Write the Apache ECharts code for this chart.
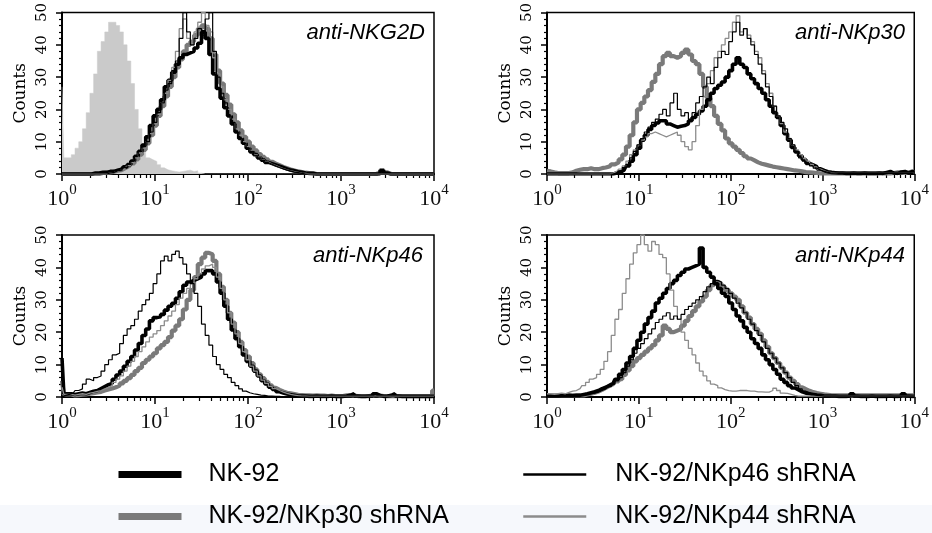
<!DOCTYPE html>
<html>
<head>
<meta charset="utf-8">
<script src="https://cdn.jsdelivr.net/npm/echarts@6/dist/echarts.min.js"></script>
<style>
  html, body { margin: 0; padding: 0; background: #fff; }
  #chart { width: 932px; height: 533px; }
</style>
</head>
<body>
<div id="chart"></div>
<script>
// Histogram channels, in decades of fluorescence (log10 of intensity)
const channelLog = [0,0.04,0.08,0.12,0.16,0.2,0.24,0.28,0.32,0.36,0.4,0.44,0.48,0.52,0.56,0.6,0.64,0.68,0.72,0.76,0.8,0.84,0.88,0.92,0.96,1,1.04,1.08,1.12,1.16,1.2,1.24,1.28,1.32,1.36,1.4,1.44,1.48,1.52,1.56,1.6,1.64,1.68,1.72,1.76,1.8,1.84,1.88,1.92,1.96,2,2.04,2.08,2.12,2.16,2.2,2.24,2.28,2.32,2.36,2.4,2.44,2.48,2.52,2.56,2.6,2.64,2.68,2.72,2.76,2.8,2.84,2.88,2.92,2.96,3,3.04,3.08,3.12,3.16,3.2,3.24,3.28,3.32,3.36,3.4,3.44,3.48,3.52,3.56,3.6,3.64,3.68,3.72,3.76,3.8,3.84,3.88,3.92,3.96,4];

const panelTitles = ['anti-NKG2D', 'anti-NKp30', 'anti-NKp46', 'anti-NKp44'];
const seriesNames = ['NK-92', 'NK-92/NKp30 shRNA', 'NK-92/NKp46 shRNA', 'NK-92/NKp44 shRNA'];
const isotypeName = 'Isotype control';
const yTicks = [0, 10, 20, 30, 40, 50];
const xTickExponents = [0, 1, 2, 3, 4];

// ---- anti-NKG2D ----
const nkg2dIsotype = [27,5,5,6,8,10,14,19,25,31, 38,41,44,47,47,46,44,40,35,28, 20,14,8,5,4.4,3.9,2.9,1.9,1.3,1, 0.8,0.6,0.8,1,1.2,0.8,1,0.3,0,0, 0,0,0,0,0,0,0,0,0,0, 0,0,0,0,0,0,0,0,0,0, 0,0,0,0,0,0,0,0,0,0, 0,0,0,0,0,0,0,0,0,0, 0,0,0,0,0,0,0,0,0,0, 0,0,0,0,0,0,0,0,0,0, 0];
const nkg2dNK92 = [0,0,0,0,0,0,0,0,0,0.3, 0.3,0.5,0.5,0.8,0.8,1.2,1.5,2.2,2.9,4, 5.5,7,9,11.5,15,18,20,23,27,29, 31.5,34,36,37,37.5,38,39,40.5,44,42, 37,31,26.5,23.5,20.5,18,15.5,13,11,9.5, 8,6.8,6,5,4.3,3.6,3.2,2.8,2.4,2, 1.6,1.2,1,0.7,0.5,0.3,0.2,0.2,0,0, 0,0,0,0,0,0,0,0,0,0, 0,0,0,0,0,0,1,0.3,0,0, 0,0,0,0,0,0,0,0,0,0, 0];
const nkg2dP30 = [0,0,0,0,0,0,0,0,0,0, 0,0.3,0.4,0.5,0.7,1,1.2,1.8,2.4,3.3, 4.5,6,7.5,9.5,12,15,18,21,24,27, 30,33,35.5,38,40,41,43,45,46,45, 42,37,32,28,24.5,21.5,18.5,16,13.5,11.5, 10,8.5,7.3,6.2,5.3,4.5,3.8,3.2,2.7,2.2, 1.8,1.4,1.1,0.8,0.6,0.4,0.3,0.2,0,0, 0,0,0,0,0,0,0,0,0,0, 0,0,0,0,0,0.5,1.2,0.5,0,0, 0,0,0,0,0,0,0,0,0,0, 0];
const nkg2dP46 = [0,0,0,0,0,0,0,0,0,0, 0,0,0,0.3,0.5,1,1.2,2,3,4, 5.5,7,8.5,10,13,16,19,22,26,28, 32,35,42,50,44,40,42,45,43,48, 50,38,30,25,22,18,16,13,11,9.5, 8,7,5.8,5,4.2,3.5,3,2.5,2,1.6, 1.2,0.9,0.6,0.4,0.2,0,0,0,0,0, 0,0,0,0,0,0,0,0,0,0, 0,0,0,0,0,0,0,0,0,0, 0,0,0,0,0,0,0,0,0,0, 0];
const nkg2dP44 = [0,0,0,0,0,0,0,0,0,0, 0,0,0,0.3,0.5,0.8,1.2,1.8,2.6,3.6, 5,6.5,8,10,12.5,15.5,18.5,22,25,29, 33,38,45,48,42,40,44,47,50,46, 44,36,31,27,23,20,17,14,12,10, 8.5,7.2,6,5.2,4.4,3.7,3.1,2.6,2.1,1.7, 1.3,1,0.7,0.5,0.3,0.2,0,0,0,0, 0,0,0,0,0,0,0,0,0,0, 0,0,0,0,0,0,0,0,0,0, 0,0,0,0,0,0,0,0,0,0, 0];

// ---- anti-NKp30 ----
const nkp30NK92 = [0,0,0,0,0,0,0,0,0,0, 0,0,0,0,0,0,0,0,0,0.3, 0.6,1.2,2.5,4,6,8,10.5,12,13.8,15, 15.8,16.5,16.5,15.5,15,14.5,14.8,15,15.5,16.5, 17.5,18.5,19.5,21,23,25,26.5,27.5,28.5,30, 32,34,36,34,33,31,29.5,28,26.5,25, 23,21,19,17.5,15,12.5,10.5,8.2,6.8,5.6, 4.5,3.3,2.8,2.3,1.6,1.1,0.7,0.5,0.4,0.3, 0.3,0.2,0.2,0.3,0.2,0.2,0.3,0.2,0.2,0.2, 0.3,0.2,0.5,0.8,0.3,0.2,0.6,0.8,0.3,0.8, 0.5];
const nkp30P30 = [1,0.8,0.5,0.3,0.3,0.3,0.3,0.5,1,1.3, 1.5,1.5,1.8,1.5,1.5,1.8,2,2.3,3,3.6, 4.5,6,8.5,12,16,20,22,24,26,28.5, 31,34,36.5,37.5,36.5,36,36.5,37.5,38.5,37, 35,34,31,27,23.5,21,18,15.5,13.5,11, 9.5,8.5,7.5,6.5,5.5,4.8,4.2,3.6,3.2,2.9, 2.6,2.3,2.1,1.9,1.7,1.5,1.3,1.1,1,0.8, 0.6,0.5,0.4,0.3,0.2,0.2,0.2,0.2,0.2,0.2, 0.2,0.2,0.2,0.2,0.2,0.2,0.2,0.2,0.2,0.2, 0.2,0.2,0.2,0.2,0.3,0.5,0.5,0.3,0.5,0.8, 0.5];
const nkp30P46 = [0,0,0,0,0,0,0,0,0,0, 0,0,0,0,0,0,0,0,0,0.3, 1,2,3,5,7,9,11,13,14.5,16, 17,18.5,20,18,22,25,20,18,19,17, 19,22,24,27,30,28,33,36,38,37, 41,44,47,43,45,42,40,37,34,31, 27,24,21,18,16,14,11,9,7,5, 4,3.2,2.5,1.8,1.2,0.8,0.5,0.3,0.3,0.2, 0.2,0.2,0.2,0.2,0.2,0.2,0.2,0.2,0.2,0.2, 0.2,0.2,0.2,0.2,0.2,0.2,0.2,0.2,0.2,0.2, 0.3];
const nkp30P44 = [0,0,0,0,0,0,0,0,0,0, 0,0,0,0,0,0,0,0,0.3,0.8, 1.5,2.5,4,6,7.5,9,10.5,11.5,12.5,13, 12.5,12,11.5,12,12.5,13,12,10,8.5,7.5, 10,15,20,24,28,32,36,38,40,42, 44,47,49,44,45,43,41,38,36,32, 28,25,21,18,15.6,13,11,9,7.5,6, 4.8,4,3,2.2,1.5,1,0.6,0.4,0.3,0.2, 0.2,0.2,0.2,0.2,0.2,0.2,0.2,0.2,0.2,0.2, 0.2,0.2,0.2,0.2,0.2,0.2,0.2,0.2,0.2,0.2, 0.3];

// ---- anti-NKp46 ----
const nkp46NK92 = [12,1,1,0.8,1,1.2,1,1.4,1.8,2, 2.6,3.2,3.8,4.2,5.5,6.8,8,9.5,11,12.5, 14.5,16.5,19,21,23.5,24.5,24.8,25.5,26.8,28, 28.9,30.5,32.5,34.5,35.5,36,36.5,37,38,39, 39,38,35.5,32,28,24,20.7,18,15.5,13, 11,9.5,8,6.5,5,4,3,2.3,1.6,1.2, 0.9,0.7,0.5,0.3,0.3,0.3,0.2,0.2,0.3,0.2, 0.2,0.2,0.3,0.2,0.2,0.2,0.3,0.5,1,0.3, 0.2,0.2,0.3,0.3,1,0.5,0.2,0.3,0.5,1, 0.3,0.2,0.2,0.2,0.2,0.2,0.2,0.2,0.2,0.2, 0.2];
const nkp46P30 = [5,0.8,0.8,0.5,0.6,0.7,0.8,1,1.2,1.4, 1.6,2,2.3,2.6,3,3.5,4.2,5,5.8,6.8, 8,9,10.5,11.5,12.5,13.5,15,16,17,18.5, 20.5,22,24,27,30,33,37,41,43,44.5, 44,42,38,34,30,26,23,20,17,14.5, 12.5,10.5,8.5,7,5.8,4.7,3.6,2.8,2.2,1.7, 1.3,1.1,0.9,0.7,0.6,0.5,0.5,0.4,0.5,0.4, 0.4,0.3,0.4,0.3,0.3,0.3,0.5,0.6,0.4,0.3, 0.3,0.3,0.3,0.4,0.6,0.4,0.3,0.3,0.3,0.3, 0.3,0.3,0.3,0.3,0.3,0.3,0.3,0.3,0.3,0.3, 2];
const nkp46P46 = [0,0.5,0.8,1.2,2,2.5,4,5.5,5,6, 6.5,8,10,11.5,13,13.5,16.5,19,21,22, 24,26.5,28.5,30,32,35,38,42,43.5,42, 44,45,43,41,38,35,32,28,22.5,19, 16,12.5,10,8.5,7,6,4.5,3.5,2.5,1.8, 1.3,1,0.8,0.6,0.5,0.3,0.3,0.2,0.2,0, 0,0,0,0,0,0,0,0,0,0, 0,0,0,0,0,0,0,0,0,0, 0,0,0,0,0,0,0,0,0,0, 0,0,0,0,0,0,0,0,0,0, 0];
const nkp46P44 = [3,0.8,0.8,0.6,0.8,1,0.8,1.2,1.4,1.7, 2,2.5,3,3.5,4.5,5.5,6.5,8,9.5,11, 12.5,14,15.5,17,18.5,19.5,20.5,22,23.5,25, 26.5,28.5,30.5,32,33.5,35,36.5,38,39.5,40.5, 41,40,37,33.5,30,26,22.5,19.5,16.5,14, 11.5,9.5,8,6.5,5.2,4.2,3.3,2.6,2,1.5, 1.1,0.8,0.6,0.4,0.3,0.3,0.2,0.2,0.2,0.2, 0.2,0.2,0.2,0.2,0.2,0.2,0.2,0.2,0.2,0.2, 0.2,0.2,0.2,0.2,0.2,0.2,0.2,0.2,0.2,0.2, 0.2,0.2,0.2,0.2,0.2,0.2,0.2,0.2,0.2,0.2, 0.2];

// ---- anti-NKp44 ----
const nkp44NK92 = [0.3,0.3,0.3,0.3,0.4,0.4,0.5,0.4,0.5,0.5, 0.8,1,1.3,1.6,2,2.6,3,3.6,4.2,5.5, 7,8.5,10.5,12.5,15,17.5,20,22.5,24.5,26.5, 29,30.5,32,33.5,35,36,37.5,38.5,39.5,40, 40.5,41,46,40,38.5,37,35,33.5,32,31, 29,27,25,23.5,21.5,20,18,16.5,15,13, 11.5,10,8.5,7,5.5,4.5,3.5,2.8,2.2,1.6, 1.2,1,0.8,0.6,0.5,0.3,0.3,0.3,0.3,0.2, 0.2,0.2,0.3,1,0.3,0.2,0.2,0.2,0.3,0.2, 0.2,0.2,0.2,0.3,0.2,0.2,0.3,1,0.3,0.2, 0.2];
const nkp44P30 = [0.5,0.5,0.5,0.5,0.5,0.5,0.5,0.5,0.5,0.5, 0.5,0.8,1,1.3,1.7,2.2,2.8,3.4,4,4.8, 5.5,6.8,8.2,9.5,11,12,13,14,15,16, 17.5,19,22,21,20,20.5,21,22,23.5,25, 26.5,28,29.5,31,33,34.5,35.5,35,34,33, 32,31,30,28,26,24.5,22.5,21,19.5,17.5, 15.5,13.5,12,10.5,9,7.5,6,5,4,3, 2.4,1.9,1.5,1.2,1,0.8,0.7,0.5,0.5,0.5, 0.5,0.5,0.5,0.5,0.5,0.5,0.5,0.5,0.5,0.5, 0.5,0.5,0.5,0.5,0.5,0.5,0.5,0.5,0.5,0.5, 0.5];
const nkp44P46 = [0.3,0.3,0.3,0.3,0.3,0.3,0.3,0.3,0.5,0.5, 0.6,0.8,1,1.2,1.5,2,2.5,3.2,4,5, 6,7.5,9.5,11.5,13.5,15,16.5,18,19.5,21, 23,24,25,26,24,25,24,25.5,27,28, 29,30,31,32.5,34,35,36,35.5,34.5,33.5, 32,30.5,29,27.5,26,24,22.5,20.5,19,17, 15,13.5,12,10.5,9,7.5,6,4.5,3.5,2.5, 1.8,1.2,0.8,0.5,0.4,0.3,0.3,0.3,0.3,0.3, 0.3,0.3,0.3,0.3,0.3,0.3,0.3,0.3,0.3,0.3, 0.3,0.3,0.3,0.3,0.3,0.3,0.3,0.3,0.3,0.3, 0.3];
const nkp44P44 = [1,1,0.8,1,1.2,1,1.4,1.8,2,2.6, 3.5,4.5,5.5,6,7,8.5,11,14,19,24, 27,32,36.5,41,44.5,47,50,47,45,48, 47,44,43,38,33,28,24,20,17.5,15, 13,10.5,8,6.5,5,4,3.5,2.8,2.3,2, 1.8,1.8,2,2,2,1.8,1.8,1.6,1.6,1.5, 1.5,2,2.7,2,1.2,1.1,0.8,0.5,0.3,0.3, 0.3,0.3,0.3,0.3,0.3,0.3,0.3,0.3,0.3,0.3, 0.3,0.3,0.3,0.3,0.3,0.3,0.3,0.3,0.3,0.3, 0.3,0.3,0.3,0.3,0.3,0.3,0.3,0.3,0.3,0.3, 0.3];

// One entry per panel: [NK-92, NKp30 shRNA, NKp46 shRNA, NKp44 shRNA]
const panelData = [
  [nkg2dNK92, nkg2dP30, nkg2dP46, nkg2dP44],
  [nkp30NK92, nkp30P30, nkp30P46, nkp30P44],
  [nkp46NK92, nkp46P30, nkp46P46, nkp46P44],
  [nkp44NK92, nkp44P30, nkp44P46, nkp44P44]
];

// Layout of the 2x2 panel grid
const panelBoxes = [
  { left: 62,  top: 12,  width: 372, height: 162 },
  { left: 547, top: 12,  width: 370, height: 162 },
  { left: 62,  top: 235, width: 372, height: 162 },
  { left: 547, top: 235, width: 370, height: 162 }
];
const titleBoxes = [
  { right: 507, top: 22 },
  { right: 27,  top: 22 },
  { right: 509, top: 245 },
  { right: 27,  top: 245 }
];

// Line looks per population
const lineLooks = {
  'NK-92':             { color: '#000000', width: 3.6, legendWidth: 7,   z: 3 },
  'NK-92/NKp30 shRNA': { color: '#7a7a7a', width: 4.2, legendWidth: 7,   z: 2 },
  'NK-92/NKp46 shRNA': { color: '#000000', width: 1.2, legendWidth: 2.5, z: 5 },
  'NK-92/NKp44 shRNA': { color: '#8c8c8c', width: 1.3, legendWidth: 2.5, z: 4 }
};

const serifTick = 'Liberation Serif';
const serifAxis = 'DejaVu Serif';

const toPairs = vals => channelLog.map((x, i) => [x, vals[i]]);

const grids = [], xAxes = [], yAxes = [], series = [], titles = [];

panelBoxes.forEach((box, p) => {
  grids.push(Object.assign({}, box, {
    show: true, borderColor: '#000', borderWidth: 1.5, backgroundColor: 'transparent'
  }));

  // data axis in decades (hidden)
  xAxes.push({
    gridIndex: p, type: 'value', min: xTickExponents[0], max: xTickExponents[xTickExponents.length - 1],
    show: false
  });
  // visible logarithmic axis with decade labels and 2..9 minor ticks
  xAxes.push({
    gridIndex: p, type: 'log', logBase: 10,
    min: Math.pow(10, xTickExponents[0]), max: Math.pow(10, xTickExponents[xTickExponents.length - 1]),
    splitNumber: 4, position: 'bottom',
    axisLine: { show: true, lineStyle: { color: '#000', width: 2 } },
    axisTick: { show: true, inside: false, length: 7, lineStyle: { color: '#000', width: 1.5 } },
    minorTick: { show: true, splitNumber: 9, length: 4, lineStyle: { color: '#000', width: 1.2 } },
    splitLine: { show: false },
    axisLabel: {
      margin: 9,
      formatter: v => '{b|10}{s|' + Math.round(Math.log10(v)) + '}',
      rich: {
        b: { fontFamily: serifTick, fontSize: 22, color: '#111', lineHeight: 27, verticalAlign: 'bottom' },
        s: { fontFamily: serifTick, fontSize: 15, color: '#111', lineHeight: 15, verticalAlign: 'top' }
      }
    }
  });

  yAxes.push({
    gridIndex: p, type: 'value', min: yTicks[0], max: yTicks[yTicks.length - 1], interval: 10,
    axisLine: { show: true, lineStyle: { color: '#000', width: 2 } },
    axisTick: { show: true, inside: false, length: 6, lineStyle: { color: '#000', width: 1.5 } },
    minorTick: { show: true, splitNumber: 5, length: 3, lineStyle: { color: '#000', width: 1.2 } },
    splitLine: { show: false },
    axisLabel: { rotate: 90, fontFamily: serifAxis, fontSize: 15, color: '#000', margin: 12 },
    name: 'Counts', nameLocation: 'middle', nameRotate: 90, nameGap: 33,
    nameTextStyle: { fontFamily: serifAxis, fontSize: 17, color: '#000' }
  });

  titles.push({
    text: panelTitles[p], right: titleBoxes[p].right, top: titleBoxes[p].top, padding: 0,
    textStyle: { fontFamily: 'Liberation Sans', fontStyle: 'italic', fontWeight: 'normal', fontSize: 22, color: '#000' }
  });

  if (p === 0) {
    series.push({
      name: isotypeName, type: 'line', xAxisIndex: 0, yAxisIndex: 0,
      data: toPairs(nkg2dIsotype), step: 'middle', symbol: 'none', z: 1,
      lineStyle: { width: 0.5, color: '#cacaca' },
      areaStyle: { color: '#cacaca', opacity: 1 }
    });
  }
  seriesNames.forEach((name, k) => {
    const look = lineLooks[name];
    series.push({
      name, type: 'line', xAxisIndex: p * 2, yAxisIndex: p,
      data: toPairs(panelData[p][k]), step: 'middle', symbol: 'none', showSymbol: false,
      z: look.z, clip: true,
      lineStyle: { color: look.color, width: look.width },
      itemStyle: { color: look.color }
    });
  });
});

const legendText = { fontFamily: 'Liberation Sans', fontSize: 25, color: '#000', lineHeight: 20 };
const legendItem = name => ({
  name,
  lineStyle: { width: lineLooks[name].legendWidth, color: lineLooks[name].color }
});
const legendBase = {
  orient: 'vertical', top: 462, height: 90, itemWidth: 63, itemHeight: 20, itemGap: 17,
  selectedMode: false, padding: 0, itemStyle: { opacity: 0 }
};

const chart = echarts.init(document.getElementById('chart'), null, { renderer: 'canvas' });
chart.setOption({
  animation: false,
  backgroundColor: '#ffffff',
  title: titles,
  grid: grids,
  xAxis: xAxes,
  yAxis: yAxes,
  series,
  legend: [
    Object.assign({}, legendBase, {
      data: [legendItem(seriesNames[0]), legendItem(seriesNames[1])],
      left: 115,
      textStyle: Object.assign({ padding: [0, 0, 0, 22] }, legendText)
    }),
    Object.assign({}, legendBase, {
      data: [legendItem(seriesNames[2]), legendItem(seriesNames[3])],
      left: 522,
      textStyle: Object.assign({ padding: [0, 0, 0, 24] }, legendText)
    })
  ],
  graphic: [
    { type: 'rect', left: 0, top: 505, z: -10, silent: true,
      shape: { width: 932, height: 28 }, style: { fill: '#f6f8fc' } }
  ]
});
</script>
</body>
</html>
